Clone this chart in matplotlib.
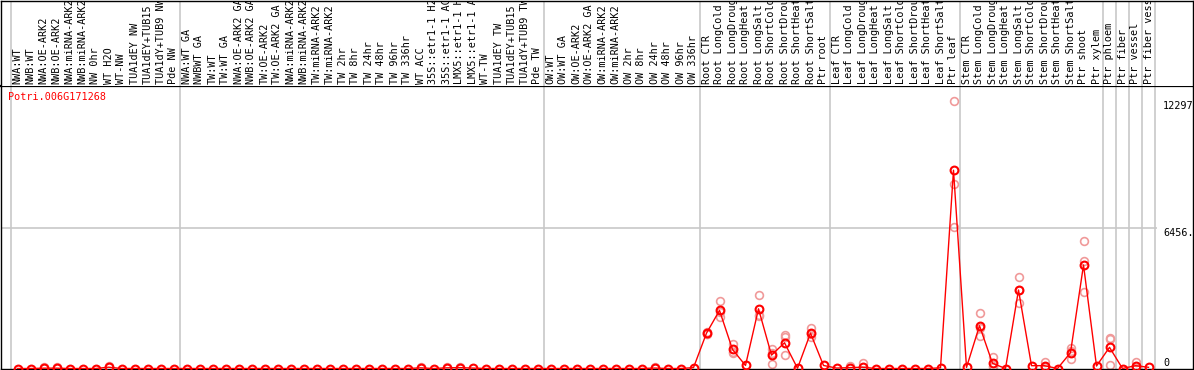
import matplotlib
matplotlib.use("Agg")
import matplotlib.pyplot as plt
import matplotlib.transforms as mtransforms

# ---------------- data ----------------
title = "Potri.006G171268"

labels = [
    # group 1
    "NWA:WT", "NWB:WT", "NWA:OE-ARK2", "NWB:OE-ARK2", "NWA:miRNA-ARK2", "NWB:miRNA-ARK2",
    "NW 0hr", "WT H2O", "WT-NW", "TUA1dEY NW", "TUA1dEY+TUB15", "TUA1dY+TUB9 NW", "Pde NW",
    # group 2
    "NWA:WT GA", "NWBWT GA", "TW:WT", "TW:WT GA", "NWA:OE-ARK2 GA", "NWB:OE-ARK2 GA",
    "TW:OE-ARK2", "TW:OE-ARK2 GA", "NWA:miRNA-ARK2", "NWB:miRNA-ARK2", "TW:miRNA-ARK2",
    "TW:miRNA-ARK2", "TW 2hr", "TW 8hr", "TW 24hr", "TW 48hr", "TW 96hr", "TW 336hr",
    "WT ACC", "35S::etr1-1 H2", "35S::etr1-1 AC", "LMX5::etr1-1 H", "LMX5::etr1-1 A",
    "WT-TW", "TUA1dEY TW", "TUA1dEY+TUB15", "TUA1dY+TUB9 TW", "Pde TW",
    # group 3
    "OW:WT", "OW:WT GA", "OW:OE-ARK2", "OW:OE-ARK2 GA", "OW:miRNA-ARK2", "OW:miRNA-ARK2",
    "OW 2hr", "OW 8hr", "OW 24hr", "OW 48hr", "OW 96hr", "OW 336hr",
    # group 4
    "Root CTR", "Root LongCold", "Root LongDroug", "Root LongHeat", "Root LongSalt",
    "Root ShortCold", "Root ShortDrou", "Root ShortHeat", "Root ShortSalt", "Ptr root",
    # group 5
    "Leaf CTR", "Leaf LongCold", "Leaf LongDroug", "Leaf LongHeat", "Leaf LongSalt",
    "Leaf ShortCold", "Leaf ShortDrou", "Leaf ShortHeat", "Leaf ShortSalt", "Ptr leaf",
    # group 6
    "Stem CTR", "Stem LongCold", "Stem LongDroug", "Stem LongHeat", "Stem LongSalt",
    "Stem ShortCold", "Stem ShortDrou", "Stem ShortHeat", "Stem ShortSalt", "Ptr shoot",
    "Ptr xylem",
    "Ptr phloem", "Ptr fiber", "Ptr vessel", "Ptr fiber vess",
]

# group start indices (separators drawn before them, plus the end)
group_starts = [0, 13, 41, 53, 63, 73, 84, 85, 86, 87, 88]

mean_group1 = [0, 0, 15, 15, 0, 0, 0, 60, 0, 0, 0, 0, 0]
mean_group2 = [0, 0, 0, 0, 0, 0, 0, 0, 0, 0, 0, 0, 0, 0,
               0, 0, 0, 0, 30, 0, 30, 40, 20, 0, 0, 0, 0, 0]
mean_group3 = [0, 0, 0, 0, 0, 0, 0, 0, 20, 0, 0, 40]
mean_root = [1628, 2674, 876, 140, 2750, 615, 1185, 10, 1628, 140]
mean_leaf = [20, 40, 60, 0, 0, 0, 0, 0, 30, 9130]
mean_stem = [50, 1971, 240, 0, 3615, 130, 130, 0, 728, 4766, 115]
mean_tissue = [975, 0, 130, 55]
means = mean_group1 + mean_group2 + mean_group3 + mean_root + mean_leaf + mean_stem + mean_tissue

# replicate values (pale circles) for samples with visible spread
rep_index = [2, 3, 7, 31, 33, 34, 49,
             53, 54, 55, 57, 58, 59, 61, 64, 65,
             72, 74, 75, 77, 79, 81, 82, 84, 86]
rep_values = [[50], [50], [120], [80], [80], [90], [70],
              [1700, 1600, 1580], [3090, 2350, 2600], [1150, 730, 750],
              [3366, 2440, 2450], [906, 230, 710], [1520, 600, 1435],
              [1860, 1440, 1590], [100], [240],
              [12297, 8484, 6515], [2540, 1497, 1880], [543, 100, 80],
              [4200, 3030, 3615], [285, 60, 50], [930, 450, 800],
              [5871, 4965, 3508], [1390, 1380, 160], [313, 40, 40]]

mid_value = 6456
max_value = 12297

# ---------------- layout ----------------
W, H = 1194, 370
fig = plt.figure(figsize=(W / 100, H / 100), dpi=100)
mono = "DejaVu Sans Mono"
fs = 7.3

x0_px, step_px = 17.5, 13.0
left_px, right_px = 1, 1193
top_px, bot_px, mid_px = 86, 368.5, 228.3

xlim = ((left_px - x0_px) / step_px, (right_px - x0_px) / step_px)
ytop = mid_value * (bot_px - top_px) / (bot_px - mid_px)

ax = fig.add_axes([left_px / W, 1 - bot_px / H, (right_px - left_px) / W, (bot_px - top_px) / H])
axt = fig.add_axes([left_px / W, 1 - top_px / H, (right_px - left_px) / W, (top_px - 0.5) / H])

for a in (ax, axt):
    a.set_xlim(*xlim)
    a.set_xticks([])
    a.set_yticks([])
    for s in a.spines.values():
        s.set_color("black")
        s.set_linewidth(1.0)
    a.set_facecolor("white")
axt.spines["bottom"].set_visible(False)
ax.spines["top"].set_linewidth(1.6)
ax.set_ylim(0, ytop)
axt.set_ylim(0, 1)

sep_color = "#c8c8c8"
for g in group_starts:
    ax.axvline(g - 0.5, color=sep_color, lw=1.2, zorder=0)
    axt.axvline(g - 0.5, color=sep_color, lw=1.2, zorder=0)

# mid gridline
grid_end = (1157 - x0_px) / step_px
ax.hlines(mid_value, xlim[0], grid_end, color=sep_color, lw=1.2, zorder=0)

# sample labels
for i, lab in enumerate(labels):
    axt.text(i, 2.0 / top_px, lab, rotation=90, ha="center", va="bottom",
             fontsize=fs, family=mono, color="black", clip_on=True)

# replicate points
for idx, vals in zip(rep_index, rep_values):
    ax.plot([idx] * len(vals), vals, linestyle="none", marker="o", ms=5.6,
            mfc="none", mec="#f09a9a", mew=1.2, zorder=2)

# mean line
xs = list(range(len(means)))
ax.plot(xs, means, color="red", lw=1.0, marker="o", ms=5.6, mfc="none",
        mec="red", mew=1.5, zorder=3)

# right-side value labels
trans = mtransforms.blended_transform_factory(ax.transAxes, ax.transData)
lx = (1163 - left_px) / (right_px - left_px)
ax.text(lx, max_value, str(max_value), transform=trans, ha="left", va="top",
        fontsize=fs, family=mono, color="black")
ax.text(lx, mid_value, f"{mid_value}.", transform=trans, ha="left", va="top",
        fontsize=fs, family=mono, color="black")
ax.text(lx, 0, "0", transform=trans, ha="left", va="bottom",
        fontsize=fs, family=mono, color="black")

# gene title
fig.text(8 / W, 1 - 97 / H, title, color="red", fontsize=fs, family=mono,
         ha="left", va="center")

fig.savefig("out.png", dpi=100, facecolor="white")
